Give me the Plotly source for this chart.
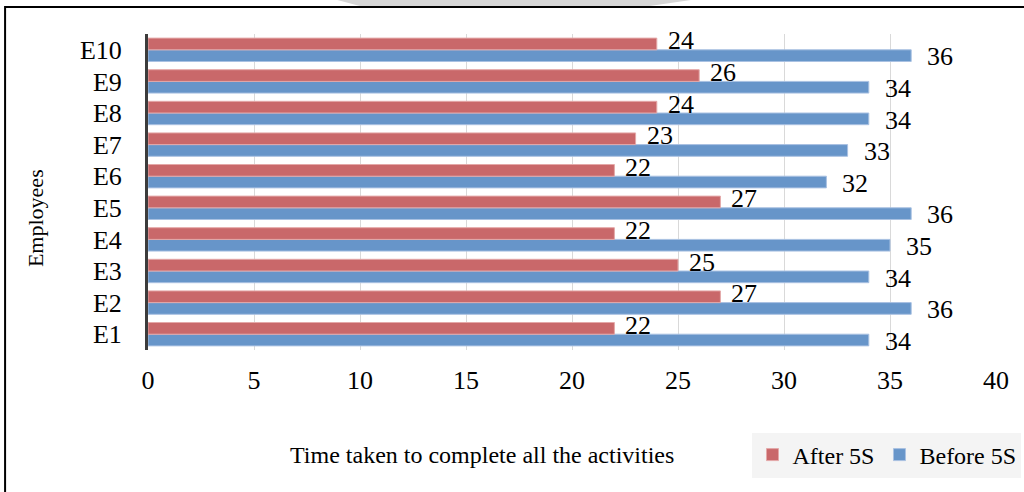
import plotly.graph_objects as go

employees = ["E1", "E2", "E3", "E4", "E5", "E6", "E7", "E8", "E9", "E10"]
after_5s = [22, 27, 25, 22, 27, 22, 23, 24, 26, 24]
before_5s = [34, 36, 34, 35, 36, 32, 33, 34, 34, 36]
x_ticks = [0, 5, 10, 15, 20, 25, 30, 35, 40]

FONT = "Liberation Serif, Times New Roman, serif"
RED = "#c9686a"
BLUE = "#6795c9"

fig = go.Figure()
fig.add_trace(go.Bar(
    y=employees, x=before_5s, orientation="h", name="Before 5S",
    marker=dict(color=BLUE, line=dict(color="#a9c1e2", width=1)),
))
fig.add_trace(go.Bar(
    y=employees, x=after_5s, orientation="h", name="After 5S",
    marker=dict(color=RED, line=dict(color="#e4a8a8", width=1)),
))

annotations = []
for emp, a, b in zip(employees, after_5s, before_5s):
    annotations.append(dict(x=a, y=emp, xref="x", yref="y", text=str(a),
                            showarrow=False, xanchor="left", yanchor="middle",
                            xshift=9, yshift=9,
                            font=dict(family=FONT, size=26, color="black")))
    annotations.append(dict(x=b, y=emp, xref="x", yref="y", text=str(b),
                            showarrow=False, xanchor="left", yanchor="middle",
                            xshift=14, yshift=-7,
                            font=dict(family=FONT, size=26, color="black")))

# axis titles
annotations.append(dict(x=(482 - 148) / 848.5, y=(350 - 455) / 316, xref="paper", yref="paper",
                        text="Time taken to complete all the activities", showarrow=False,
                        xanchor="center", yanchor="middle",
                        font=dict(family=FONT, size=24, color="black")))
annotations.append(dict(x=(35 - 148) / 848.5, y=(350 - 218) / 316, xref="paper", yref="paper",
                        text="Employees", showarrow=False, textangle=-90,
                        xanchor="center", yanchor="middle",
                        font=dict(family=FONT, size=22, color="black")))

shapes = [
    # outer border
    dict(type="rect", xref="paper", yref="paper",
         x0=(5 - 148) / 848.5, x1=(1040 - 148) / 848.5,
         y0=(350 - 510) / 316, y1=(350 - 7) / 316,
         line=dict(color="black", width=2), fillcolor="rgba(0,0,0,0)", layer="above"),
    # watermark band at top
    dict(type="path", xref="paper", yref="paper",
         path="M {a},{t} L {b},{t} L {c},{m} L {d},{m} Z".format(
             a=(330 - 148) / 848.5, b=(705 - 148) / 848.5,
             c=(650 - 148) / 848.5, d=(360 - 148) / 848.5,
             t=(350 + 2) / 316, m=(350 - 6) / 316),
         fillcolor="#d6d6d6", line=dict(width=0), layer="below"),
]

fig.update_layout(
    width=1024, height=492,
    margin=dict(l=148, r=27.5, t=34, b=142, autoexpand=False),
    paper_bgcolor="white", plot_bgcolor="white",
    barmode="group", bargap=0.26, bargroupgap=0.0,
    font=dict(family=FONT, color="black"),
    showlegend=True,
    legend=dict(orientation="h", traceorder="reversed",
                x=(1022 - 148) / 848.5, xanchor="right",
                y=(350 - 455) / 316, yanchor="middle",
                bgcolor="#f4f4f4", font=dict(family=FONT, size=24, color="black"),
                itemwidth=30, tracegroupgap=0),
    annotations=annotations,
    shapes=shapes,
)
fig.update_xaxes(range=[0, 40], tickvals=x_ticks, ticktext=[str(v) for v in x_ticks],
                 showgrid=True, gridcolor="#d9d9d9", gridwidth=1, zeroline=False,
                 showline=False, ticks="", ticklabelstandoff=12,
                 tickfont=dict(family=FONT, size=26, color="black"))
fig.update_yaxes(categoryorder="array", categoryarray=employees,
                 range=[-0.5, len(employees) - 0.5], autorange=False,
                 tickmode="array", tickvals=employees, ticktext=employees,
                 showgrid=False, zeroline=False, showline=True, linecolor="#3c3c3c",
                 linewidth=3, ticks="", ticklabelstandoff=18,
                 tickfont=dict(family=FONT, size=26, color="black"))

fig.write_html("out.html")
